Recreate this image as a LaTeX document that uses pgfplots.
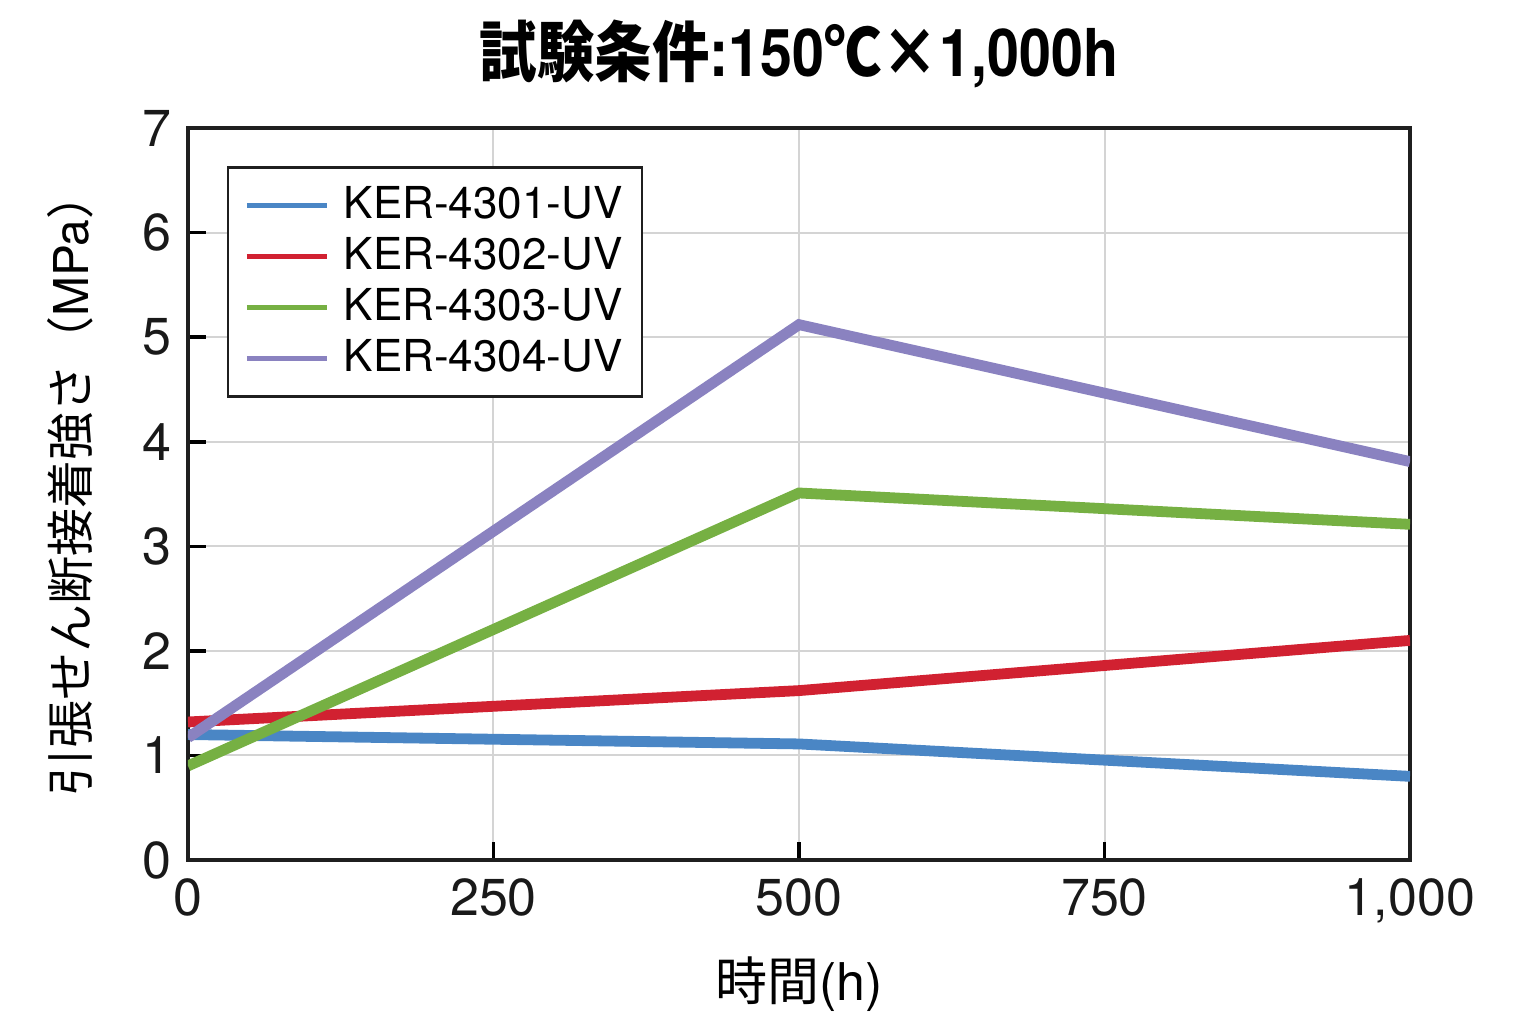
\documentclass[border=0pt]{standalone}
\usepackage{fontspec}
\usepackage{graphicx}
\setmainfont{TeX Gyre Heros}
\newfontfamily\cjk{Noto Sans CJK JP}
\usepackage{pgfplots}
\pgfplotsset{compat=1.18}
\definecolor{cblue}{HTML}{4A86C5}
\definecolor{cred}{HTML}{D12131}
\definecolor{cgreen}{HTML}{76B043}
\definecolor{cpurple}{HTML}{8A82C0}
\definecolor{cgrid}{HTML}{D4D4D4}
\begin{document}
\begin{tikzpicture}
\begin{axis}[
  scale only axis,
  width=305.5pt, height=183pt,
  xmin=0, xmax=1000, ymin=0, ymax=7,
  xtick={0,250,500,750,1000},
  xticklabels={0,250,500,750,{1,000}},
  ytick={0,1,2,3,4,5,6,7},
  yticklabels={0,1,2,3,4,5,6,7},
  xtick pos=bottom, ytick pos=left,
  tick align=inside,
  major tick length=4.5pt,
  every tick/.style={black, line width=0.9pt},
  axis line style={line width=0.9pt, draw=black!88},
  grid=major,
  major grid style={draw=cgrid, line width=0.5pt},
  tick label style={font=\fontsize{13}{15}\selectfont, text=black!90},
  xticklabel style={yshift=-1pt},
  yticklabel style={xshift=-0.5pt},
  title={\scalebox{0.87}[1]{\fontsize{16.5}{18}\selectfont\bfseries{\cjk\bfseries 試験条件}:150{\cjk\bfseries ℃}{\cjk ×}1,000h}},
  title style={at={(axis description cs:0.5,1)}, anchor=center, yshift=12.5pt},
  xlabel={{\cjk 時間}(h)},
  xlabel style={at={(axis description cs:0.5,0)}, anchor=center, yshift=-31pt, font=\fontsize{13}{15}\selectfont},
  ylabel={{\cjk 引張せん断接着強さ（}MPa{\cjk ）}},
  ylabel style={at={(axis description cs:0,0.5)}, anchor=center, rotate=0, yshift=29.5pt, xshift=2.5pt, font=\fontsize{12}{14}\selectfont},
  legend cell align=left,
  legend style={at={(0.0319,0.948)}, anchor=north west, draw=black!88, line width=0.6pt,
    font=\fontsize{11}{12}\selectfont, inner sep=4pt, row sep=1.6pt,
    nodes={inner sep=0.8pt},
    /tikz/every odd column/.append style={column sep=2.8pt},
    /tikz/every even column/.append style={column sep=0pt}},
  legend image code/.code={\draw[#1, line width=1.3pt] (0pt,0pt) -- (20pt,0pt);},
  every axis plot/.append style={line width=2.7pt},
]
\addplot[cblue] coordinates {(0,1.20) (500,1.11) (1000,0.80)};
\addlegendentry{KER-4301-UV}
\addplot[cred] coordinates {(0,1.32) (500,1.62) (1000,2.10)};
\addlegendentry{KER-4302-UV}
\addplot[cgreen] coordinates {(0,0.90) (500,3.51) (1000,3.21)};
\addlegendentry{KER-4303-UV}
\addplot[cpurple] coordinates {(0,1.17) (500,5.12) (1000,3.81)};
\addlegendentry{KER-4304-UV}
\end{axis}
\pgfresetboundingbox
\path (-47pt,-37.75pt) rectangle (333.5pt,215pt);
\end{tikzpicture}
\end{document}
